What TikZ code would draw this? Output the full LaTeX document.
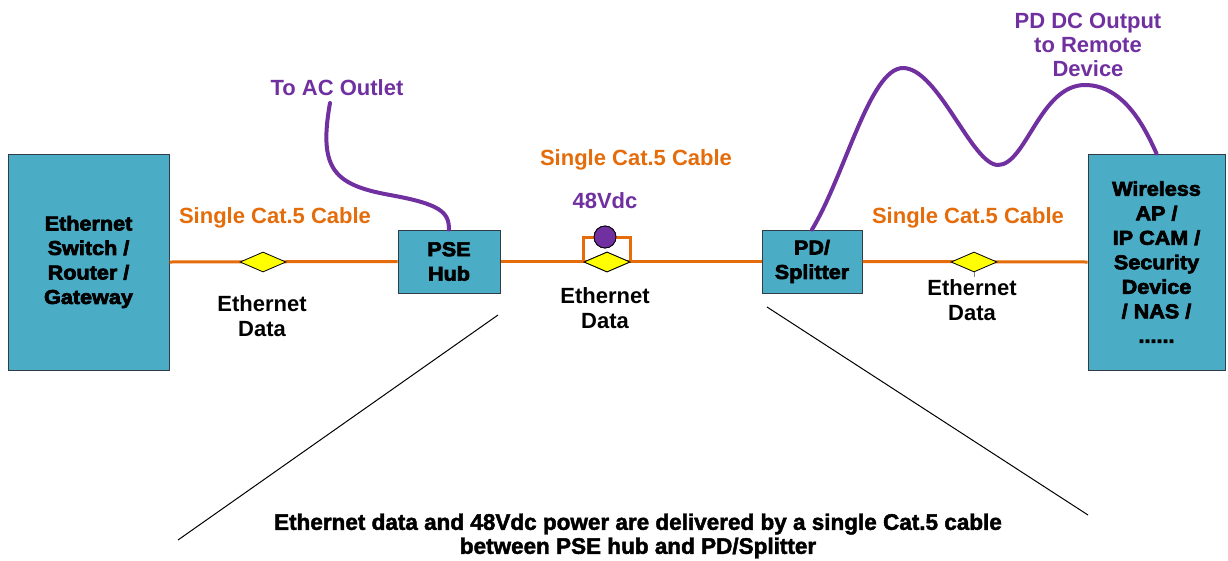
\documentclass[tikz,border=0pt]{standalone}
\usepackage{fontspec}
\setmainfont{Liberation Sans}
\newfontfamily\heavyfont[FakeBold=3.5,FakeStretch=1.08]{Liberation Sans Bold}
\newfontfamily\notefont[FakeBold=2]{Liberation Sans Bold}
\usetikzlibrary{shapes.geometric}
\definecolor{boxfill}{RGB}{75,172,198}
\definecolor{boxline}{RGB}{50,60,70}
\definecolor{cableorange}{RGB}{228,108,10}
\definecolor{powerpurple}{RGB}{112,48,160}
\definecolor{datayellow}{RGB}{255,255,0}
\tikzset{
  device/.style={draw=boxline, line width=1pt, fill=boxfill, align=center,
    inner sep=0pt, font=\heavyfont\fontsize{20}{24.5}\selectfont},
  cat5/.style={draw=cableorange, line width=3pt},
  power/.style={draw=powerpurple, line width=4pt, line cap=round},
  datamark/.style={diamond, draw=black, line width=0.8pt, fill=datayellow,
    inner sep=0pt, minimum width=46pt, minimum height=20pt},
  cablelabel/.style={text=cableorange, font=\bfseries\fontsize{22}{24}\selectfont},
  powerlabel/.style={text=powerpurple, align=center, font=\bfseries\fontsize{22}{24}\selectfont},
  datalabel/.style={align=center, font=\bfseries\fontsize{22}{25}\selectfont},
  pointer/.style={draw=black, line width=1pt}
}
\begin{document}
\begin{tikzpicture}[x=1pt,y=-1pt]
\useasboundingbox (0,0) rectangle (1228,560);

% devices
\node[device, minimum width=161pt, minimum height=216pt] (switch) at (88.5,262)
  {Ethernet\\Switch /\\Router /\\Gateway};
\node[device, minimum width=102pt, minimum height=63pt] (pse) at (449,261.5)
  {PSE\\Hub};
\node[device, minimum width=100pt, minimum height=63pt] (pd) at (812,261.5)
  {PD/\\Splitter};
\node[device, minimum width=137pt, minimum height=216pt] (remote) at (1156.5,262)
  {Wireless\\AP /\\IP CAM /\\Security\\Device\\/ NAS /\\......};

% Cat.5 cables
\draw[cat5] (switch.east) -- (pse.west);
\draw[cat5] (pse.east) -- (pd.west);
\draw[cat5] (pd.east) -- (remote.west);

% data markers and the 48Vdc bypass
\node[datamark] (d1) at (263,262) {};
\node[datamark] (d2) at (607,262) {};
\node[datamark] (d3) at (974,262) {};
\node[circle, draw=black, line width=0.8pt, fill=powerpurple, inner sep=0pt,
  minimum size=22pt] (dc) at (605,237) {};
\draw[cat5] (d2.west) |- (dc.west);
\draw[cat5] (dc.east) -| (d2.east);
\node[circle, draw=black, line width=0.8pt, fill=powerpurple, inner sep=0pt,
  minimum size=22pt] at (dc) {};
\node[datamark] at (d2) {};
\draw[gray, line width=1pt] (d3.south) -- ++(0,5);

% power leads
\coordinate (ac) at (330,103);
\draw[power] (ac) .. controls (318,170) and (335,185) .. (390,195)
  .. controls (440,204) and (449,212) .. (pse.north);
\draw[power] (pd.north) .. controls (845,175) and (870,68) .. (903,68)
  .. controls (938,68) and (972,165) .. (998,165)
  .. controls (1026,165) and (1040,85) .. (1085,85)
  .. controls (1124,85) and (1145,128) .. (remote.north);

% labels
\node[cablelabel] (c1) at (275,218) {Single Cat.5 Cable};
\node[cablelabel] (c2) at (636,160) {Single Cat.5 Cable};
\node[cablelabel] (c3) at (968,218) {Single Cat.5 Cable};
\node[datalabel] (e1) at (262,316) {Ethernet\\Data};
\node[datalabel] (e2) at (605,308) {Ethernet\\Data};
\node[datalabel] (e3) at (972,300) {Ethernet\\Data};
\node[powerlabel] (acl) at (337,88) {To AC Outlet};
\node[powerlabel] (vdc) at (605,201) {48Vdc};
\node[powerlabel] (pdl) at (1088,45) {PD DC Output\\to Remote\\Device};

% pointers to the note
\coordinate (p1a) at (498,315);
\coordinate (p1b) at (178,540);
\coordinate (p2a) at (767,307);
\coordinate (p2b) at (1088,515);
\draw[pointer] (p1a) -- (p1b);
\draw[pointer] (p2a) -- (p2b);
\node[align=center, font=\notefont\fontsize{22.5}{24}\selectfont] (note) at (638,536)
  {Ethernet data and 48Vdc power are delivered by a single Cat.5 cable\\between PSE hub and PD/Splitter};
\end{tikzpicture}
\end{document}
